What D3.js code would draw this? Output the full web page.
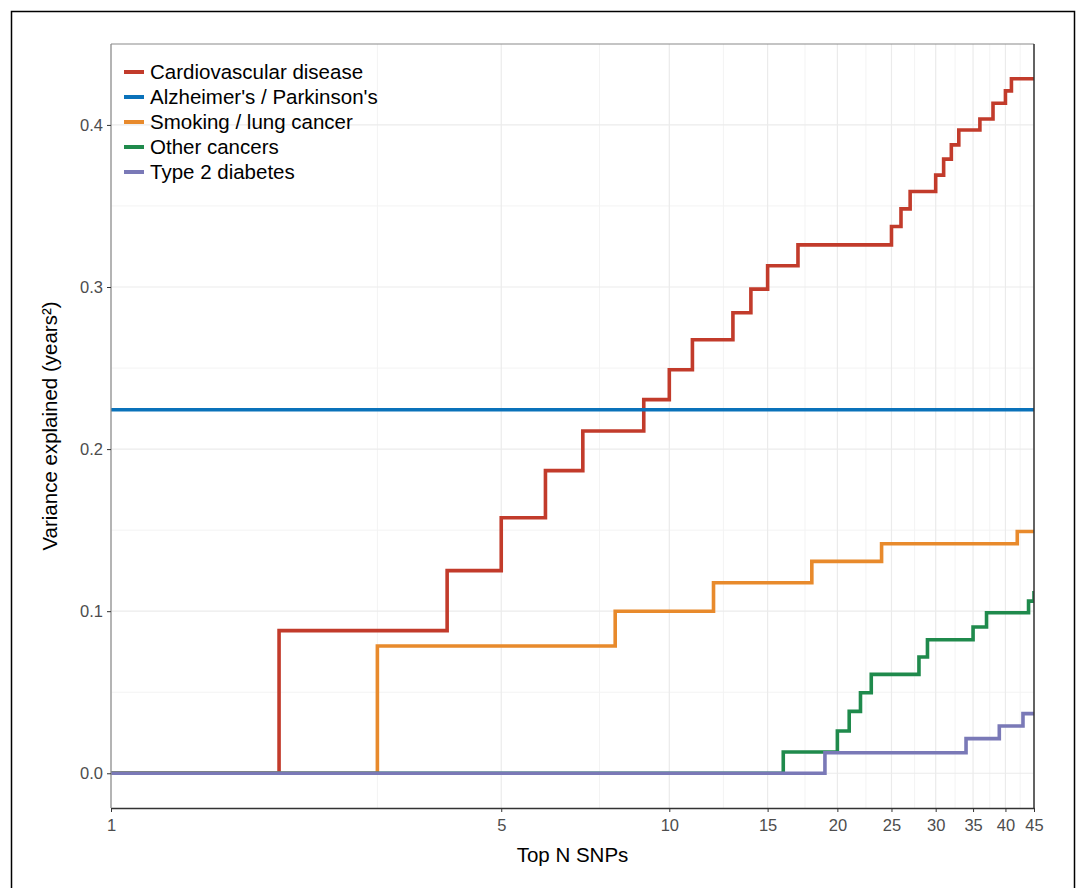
<!DOCTYPE html>
<html>
<head>
<meta charset="utf-8">
<script src="https://cdn.jsdelivr.net/npm/d3@7"></script>
<style>
  body { margin: 0; background: #fff; }
  svg text { font-family: "Liberation Sans", Arial, sans-serif; }
</style>
</head>
<body>
<div id="viz"></div>
<script>
// Cumulative variance explained by the top N SNPs, one value per N (1..45)
var topN = d3.range(1, 46);

var seriesNames = ["Cardiovascular disease", "Alzheimer's / Parkinson's", "Smoking / lung cancer", "Other cancers", "Type 2 diabetes"];
var seriesColors = ["#C23B2B", "#0A72BA", "#E88A2C", "#1F8A4C", "#7A79B7"];

var cardio = [0, 0.088, 0.088, 0.125, 0.1576, 0.1867, 0.2112, 0.2112, 0.2305, 0.249,
              0.2675, 0.2675, 0.2841, 0.2987, 0.3131, 0.3131, 0.326, 0.326, 0.326, 0.326,
              0.326, 0.326, 0.326, 0.326, 0.3373, 0.3482, 0.3589, 0.3589, 0.3589, 0.369,
              0.3789, 0.3877, 0.3969, 0.3969, 0.3969, 0.4037, 0.4037, 0.4134, 0.4134, 0.421,
              0.4285, 0.4285, 0.4285, 0.4285, 0.4285];
var alzheimer = topN.map(function() { return 0.2243; });
var smoking = [0, 0, 0.0785, 0.0785, 0.0785, 0.0785, 0.0785, 0.100, 0.100, 0.100,
               0.100, 0.1175, 0.1175, 0.1175, 0.1175, 0.1175, 0.1175, 0.1307, 0.1307, 0.1307,
               0.1307, 0.1307, 0.1307, 0.1416, 0.1416, 0.1416, 0.1416, 0.1416, 0.1416, 0.1416,
               0.1416, 0.1416, 0.1416, 0.1416, 0.1416, 0.1416, 0.1416, 0.1416, 0.1416, 0.1416,
               0.1416, 0.1492, 0.1492, 0.1492, 0.1492];
var otherCancers = [0, 0, 0, 0, 0, 0, 0, 0, 0, 0,
                    0, 0, 0, 0, 0, 0.0131, 0.0131, 0.0131, 0.0131, 0.0261,
                    0.0382, 0.0497, 0.061, 0.061, 0.061, 0.061, 0.061, 0.0717, 0.0824, 0.0824,
                    0.0824, 0.0824, 0.0824, 0.0824, 0.0902, 0.0902, 0.099, 0.099, 0.099, 0.099,
                    0.099, 0.099, 0.099, 0.1062, 0.1124];
var diabetes = [0, 0, 0, 0, 0, 0, 0, 0, 0, 0,
                0, 0, 0, 0, 0, 0, 0, 0, 0.0127, 0.0127,
                0.0127, 0.0127, 0.0127, 0.0127, 0.0127, 0.0127, 0.0127, 0.0127, 0.0127, 0.0127,
                0.0127, 0.0127, 0.0127, 0.0214, 0.0214, 0.0214, 0.0214, 0.0214, 0.0292, 0.0292,
                0.0292, 0.0292, 0.0368, 0.0368, 0.0368];

var xTicks = [1, 5, 10, 15, 20, 25, 30, 35, 40, 45];
var xMinor = [3, 7.5, 12.5, 17.5, 22.5, 27.5, 32.5, 37.5, 42.5];
var yTicks = [0, 0.1, 0.2, 0.3, 0.4];
var yMinor = [0.05, 0.15, 0.25, 0.35];

var allSeries = [cardio, alzheimer, smoking, otherCancers, diabetes];

var W = 1077, H = 888;
var panel = {left: 111, right: 1034, top: 44, bottom: 808};

function main() {
    var svg = d3.select("#viz").append("svg")
        .attr("width", W).attr("height", H);

    // outer frame
    svg.append("rect")
        .attr("x", 11.5).attr("y", 11.5)
        .attr("width", 1063).attr("height", 900)
        .attr("fill", "none").attr("stroke", "#000").attr("stroke-width", 1.5);

    var x = d3.scaleLog().domain([1, 45]).range([panel.left, panel.right]);
    var ymax = d3.max(allSeries, function(s) { return d3.max(s); });
    var pad = ymax * 0.05;
    var y = d3.scaleLinear().domain([-pad, ymax + pad]).range([panel.bottom, panel.top]);

    // grid
    var grid = svg.append("g");
    grid.selectAll(".xminor").data(xMinor).enter().append("line")
        .attr("x1", function(d) { return x(d); }).attr("x2", function(d) { return x(d); })
        .attr("y1", panel.top).attr("y2", panel.bottom)
        .attr("stroke", "#F3F3F3").attr("stroke-width", 1);
    grid.selectAll(".yminor").data(yMinor).enter().append("line")
        .attr("x1", panel.left).attr("x2", panel.right)
        .attr("y1", function(d) { return y(d); }).attr("y2", function(d) { return y(d); })
        .attr("stroke", "#F3F3F3").attr("stroke-width", 1);
    grid.selectAll(".xmajor").data(xTicks).enter().append("line")
        .attr("x1", function(d) { return x(d); }).attr("x2", function(d) { return x(d); })
        .attr("y1", panel.top).attr("y2", panel.bottom)
        .attr("stroke", "#EBEBEB").attr("stroke-width", 1.2);
    grid.selectAll(".ymajor").data(yTicks).enter().append("line")
        .attr("x1", panel.left).attr("x2", panel.right)
        .attr("y1", function(d) { return y(d); }).attr("y2", function(d) { return y(d); })
        .attr("stroke", "#EBEBEB").attr("stroke-width", 1.2);

    // step lines, clipped to the panel
    svg.append("clipPath").attr("id", "clip").append("rect")
        .attr("x", panel.left).attr("y", panel.top)
        .attr("width", panel.right - panel.left).attr("height", panel.bottom - panel.top);

    var line = d3.line()
        .x(function(d, i) { return x(topN[i]); })
        .y(function(d) { return y(d); })
        .curve(d3.curveStepAfter);

    svg.append("g").attr("clip-path", "url(#clip)")
        .selectAll("path").data(allSeries).enter().append("path")
        .attr("d", line)
        .attr("fill", "none")
        .attr("stroke", function(d, i) { return seriesColors[i]; })
        .attr("stroke-width", 3.6)
        .attr("stroke-linejoin", "miter")
        .attr("stroke-linecap", "butt");

    // panel border: grey top/left, dark bottom/right
    svg.append("line").attr("x1", panel.left).attr("x2", panel.right)
        .attr("y1", panel.top).attr("y2", panel.top)
        .attr("stroke", "#8A8A8A").attr("stroke-width", 1.2);
    svg.append("line").attr("x1", panel.left).attr("x2", panel.left)
        .attr("y1", panel.top).attr("y2", panel.bottom)
        .attr("stroke", "#8A8A8A").attr("stroke-width", 1.2);
    svg.append("line").attr("x1", panel.right).attr("x2", panel.right)
        .attr("y1", panel.top).attr("y2", panel.bottom)
        .attr("stroke", "#333").attr("stroke-width", 1.5);

    // axes
    var xAxis = svg.append("g")
        .attr("transform", "translate(0," + panel.bottom + ")")
        .call(d3.axisBottom(x).tickValues(xTicks).tickFormat(d3.format("d"))
              .tickSize(4).tickSizeOuter(0).tickPadding(7));
    xAxis.select(".domain").attr("stroke", "#333").attr("stroke-width", 1.5);
    xAxis.selectAll(".tick line").attr("stroke", "#333");
    xAxis.selectAll("text").attr("fill", "#4D4D4D").style("font-size", "16.5px");

    var yAxis = svg.append("g")
        .attr("transform", "translate(" + panel.left + ",0)")
        .call(d3.axisLeft(y).tickValues(yTicks).tickFormat(d3.format(".1f"))
              .tickSize(4).tickPadding(4));
    yAxis.select(".domain").remove();
    yAxis.selectAll(".tick line").attr("stroke", "#333");
    yAxis.selectAll("text").attr("fill", "#4D4D4D").style("font-size", "16.5px");

    // axis titles
    svg.append("text")
        .attr("x", (panel.left + panel.right) / 2).attr("y", 862)
        .attr("text-anchor", "middle")
        .style("font-size", "20.5px").attr("fill", "#000")
        .text("Top N SNPs");
    svg.append("text")
        .attr("transform", "translate(57," + (panel.top + panel.bottom) / 2 + ") rotate(-90)")
        .attr("text-anchor", "middle")
        .style("font-size", "20.5px").attr("fill", "#000")
        .text("Variance explained (years²)");

    // legend
    var legend = svg.append("g").attr("transform", "translate(124,72)");
    var item = legend.selectAll("g").data(seriesNames).enter().append("g")
        .attr("transform", function(d, i) { return "translate(0," + i * 25 + ")"; });
    item.append("line")
        .attr("x1", 0).attr("x2", 20).attr("y1", 0).attr("y2", 0)
        .attr("stroke", function(d, i) { return seriesColors[i]; })
        .attr("stroke-width", 4);
    item.append("text")
        .attr("x", 26).attr("y", 0).attr("dy", "0.35em")
        .style("font-size", "20.5px").attr("fill", "#000")
        .text(function(d) { return d; });
}

main();
</script>
</body>
</html>
